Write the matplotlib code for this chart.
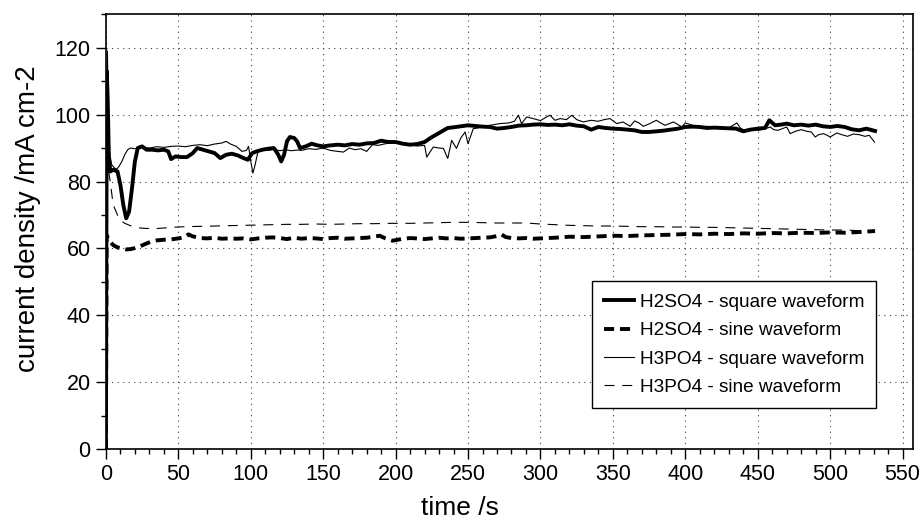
import matplotlib
matplotlib.use('Agg')
import matplotlib.pyplot as plt
from matplotlib.ticker import MultipleLocator

plt.rcParams['font.family'] = ['Liberation Sans', 'DejaVu Sans']

# H2SO4 - square waveform
t_h2so4_sq = [0, 0.6, 1.2, 2, 3, 5, 8, 10, 12, 14, 16, 18, 20, 22, 25, 28, 32, 36, 40, 43, 45, 48, 52, 56,
              60, 63, 67, 71, 75, 79, 83, 87, 91, 95, 98, 101, 104, 108, 112, 116, 119, 121, 123, 125, 127,
              130, 132, 134, 138, 142, 146, 150, 155, 160, 165, 170, 175, 180, 185, 190, 195, 200, 205, 210,
              215, 220, 224, 228, 232, 236, 240, 245, 250, 255, 260, 265, 270, 275, 280, 285, 290, 295, 300,
              305, 310, 315, 320, 325, 330, 335, 340, 345, 350, 355, 360, 365, 370, 375, 380, 385, 390, 395,
              400, 405, 410, 415, 420, 425, 430, 435, 440, 445, 450, 455, 458, 462, 466, 470, 475, 480, 485,
              490, 495, 500, 505, 510, 515, 520, 525, 531]
y_h2so4_sq = [0, 113, 105, 88, 83, 83.5, 83, 79, 73, 69, 71, 78, 86, 90, 90.5, 89.5, 89.5, 89.3, 89.5, 89,
              86.7, 87.5, 87.3, 87.3, 88.5, 90, 89.5, 89, 88.5, 87, 88, 88.3, 87.8, 87, 86.5, 88.5, 89, 89.5,
              89.8, 90, 88, 86, 88, 92, 93.3, 93, 92, 90, 90.5, 91.3, 90.8, 90.5, 90.8, 91, 90.8, 91.2, 91,
              91.4, 91.5, 92.2, 91.8, 91.8, 91.3, 91, 91.2, 91.8, 93, 94, 95, 96, 96.2, 96.5, 96.8, 96.6,
              96.4, 96.3, 95.8, 96, 96.3, 96.7, 96.8, 97, 97.1, 96.9, 97, 96.8, 97.1, 96.7, 96.5, 95.5, 96.3,
              96, 95.8, 95.7, 95.5, 95.3, 94.8, 94.8, 95, 95.2, 95.5, 95.8, 96.3, 96.4, 96.3, 96, 96.1, 96,
              95.9, 95.8, 95, 95.5, 95.8, 96, 98.3, 96.8, 97, 97.3, 96.8, 97, 96.7, 97, 96.5, 96.3, 96.6,
              96.3, 95.6, 95.3, 95.8, 95.1]

# H2SO4 - sine waveform
t_h2so4_sin = [0, 0.5, 1.5, 3, 5, 8, 11, 14, 17, 20, 23, 27, 31, 35, 40, 45, 50, 54, 57, 60, 65, 70, 75, 80,
               85, 90, 95, 100, 105, 110, 115, 120, 125, 130, 135, 140, 145, 150, 155, 160, 165, 170, 175,
               180, 185, 189, 193, 198, 205, 210, 215, 220, 225, 230, 235, 240, 245, 250, 255, 260, 265, 270,
               273, 276, 280, 285, 290, 295, 300, 310, 320, 330, 340, 350, 360, 370, 380, 390, 400, 410, 420,
               430, 440, 450, 460, 470, 480, 490, 500, 510, 520, 531]
y_h2so4_sin = [0, 64, 63, 62, 61, 60.3, 60, 59.7, 59.8, 60.1, 60.5, 61.3, 62, 62.4, 62.6, 62.7, 63, 63.3,
               64.2, 63.6, 63.1, 63, 63.2, 62.9, 63, 62.9, 63, 62.7, 63, 63.2, 63.3, 63.1, 62.8, 63.2, 62.9,
               63.1, 63, 62.8, 63.1, 63.2, 62.9, 63, 63.1, 63.2, 63.5, 63.8, 63, 62.3, 62.9, 63.1, 63, 62.8,
               63, 63.2, 63, 63.1, 62.9, 63, 63.1, 63.2, 63.3, 63.7, 64.2, 63.4, 63.1, 63, 63.1, 62.9, 63,
               63.2, 63.5, 63.4, 63.6, 63.8, 63.7, 63.9, 64, 64.1, 64.3, 64.2, 64.4, 64.3, 64.5, 64.4, 64.6,
               64.5, 64.7, 64.6, 64.8, 64.7, 64.9, 65.2]

# H3PO4 - square waveform
t_h3po4_sq = [0, 1, 1.8, 2.5, 4, 6, 7.5, 9, 11, 13, 15, 17, 20, 25, 30, 35, 40, 45, 50, 55, 60, 65, 70, 75,
              80, 83, 86, 90, 94, 97, 98.5, 100, 101.5, 103, 105, 108, 112, 116, 120, 124, 128, 132, 135, 140,
              145, 150, 155, 160, 164, 168, 172, 176, 180, 184, 188, 192, 196, 200, 205, 210, 215, 220, 221.5,
              224, 226, 230, 233, 236, 238.7, 242, 245, 248, 250, 253.6, 257, 260, 265, 272, 278, 282, 284.8,
              287, 290.5, 295, 300, 305, 306.6, 310, 313.5, 318, 321.6, 325, 329.6, 335, 340, 344, 348, 352.7,
              357, 361.9, 365, 368, 371, 375, 380, 383, 386, 391.8, 395, 397.6, 400, 405, 410, 415, 420, 425,
              430, 433, 435.6, 438, 440, 445, 450, 455, 458.6, 461, 464, 467, 470, 472.4, 476, 480, 484, 487,
              489.7, 492, 495.4, 498, 500, 504.6, 508, 512, 516, 520, 524, 527, 530.6]
y_h3po4_sq = [0, 119, 100, 88, 85, 84, 83.7, 84.5, 86, 88, 89.5, 90, 89.8, 90.2, 90, 90.4, 90.2, 90.5, 90.6,
              90.4, 90.8, 91, 90.7, 91.2, 91.5, 92, 91.2, 90.5, 89, 89.3, 90.5, 86, 82.5, 85, 89, 89.5, 89.3,
              89.6, 89.2, 89.5, 89.2, 89.4, 89.3, 89.8, 89.6, 90, 89.3, 89, 88.8, 90, 89.5, 89.8, 89, 91,
              90.8, 91.2, 91.5, 92, 91.5, 91, 90.6, 90.8, 87.3, 89, 90.3, 90, 89.9, 86.9, 92.3, 89.9, 93,
              94.8, 91.3, 95.8, 96, 96.5, 96.8, 97.3, 97.5, 98, 99.8, 97.3, 99.3, 98.8, 98.2, 99.5, 99.8,
              98.3, 98.8, 98.5, 99.8, 98.5, 97.8, 98.3, 98, 98.5, 98.8, 97.3, 97.8, 96.5, 98.1, 97.5, 96.5,
              97.2, 98.3, 97.5, 96.8, 97.8, 97, 96.3, 97.5, 96.8, 96.3, 96.5, 96.2, 96, 96.1, 96.8, 97.5, 96,
              95.5, 95.6, 95.3, 95.7, 96.3, 95.5, 95.3, 95.8, 96.3, 94.3, 95, 95.5, 95, 94.8, 93.3, 94, 94.3,
              93.8, 93.3, 94.5, 94, 93.5, 94.2, 94, 93.5, 93.8, 91.8]

# H3PO4 - sine waveform
t_h3po4_sin = [0, 0.5, 1.5, 3, 5, 8, 10, 13, 17, 21, 27, 33, 37, 45, 55, 65, 75, 85, 95, 105, 115, 125,
               135, 145, 155, 165, 175, 185, 197, 210, 220, 230, 240, 250, 260, 270, 280, 290, 300, 310, 320,
               330, 340, 350, 360, 370, 380, 390, 400, 410, 420, 430, 440, 450, 460, 470, 480, 490, 500, 510,
               520, 531]
y_h3po4_sin = [0, 80, 84, 80, 73, 70, 68.5, 67.5, 66.8, 66.2, 66, 65.9, 66, 66.3, 66.5, 66.6, 66.7, 66.8,
               66.9, 67, 67.1, 67.2, 67.2, 67.3, 67.2, 67.3, 67.4, 67.4, 67.5, 67.5, 67.6, 67.7, 67.8, 67.8,
               67.7, 67.6, 67.6, 67.6, 67.3, 67.1, 66.9, 66.8, 66.7, 66.7, 66.6, 66.5, 66.5, 66.4, 66.4,
               66.3, 66.3, 66.2, 66.1, 66, 65.9, 65.8, 65.7, 65.6, 65.5, 65.5, 65.3, 65.3]

fig = plt.figure(figsize=(9.21, 5.26), dpi=100)
ax = fig.add_axes([0.115, 0.146, 0.876, 0.827])

ax.plot(t_h2so4_sq, y_h2so4_sq, color='black', lw=2.8, label='H2SO4 - square waveform')
ax.plot(t_h2so4_sin, y_h2so4_sin, color='black', lw=2.8, dashes=(2.6, 1.5), label='H2SO4 - sine waveform')
ax.plot(t_h3po4_sq, y_h3po4_sq, color='black', lw=0.8, label='H3PO4 - square waveform')
ax.plot(t_h3po4_sin, y_h3po4_sin, color='black', lw=0.8, dashes=(9, 7), label='H3PO4 - sine waveform')

ax.set_xlim(0, 557)
ax.set_ylim(0, 130)
ax.xaxis.set_major_locator(MultipleLocator(50))
ax.xaxis.set_minor_locator(MultipleLocator(10))
ax.yaxis.set_major_locator(MultipleLocator(20))
ax.yaxis.set_minor_locator(MultipleLocator(10))
ax.tick_params(which='major', length=7, width=1, direction='out', labelsize=15.5, pad=4)
ax.tick_params(which='minor', length=3.5, width=1, direction='out')
ax.grid(True, which='major', color='0.25', lw=0.8, linestyle=(0, (1, 4)))
for s in ax.spines.values():
    s.set_linewidth(1.2)

ax.set_xlabel('time /s', fontsize=19)
ax.xaxis.set_label_coords(0.4387, -0.108)
ax.set_ylabel('current density /mA cm-2', fontsize=20)
ax.yaxis.set_label_coords(-0.08, 0.531)

leg = ax.legend(loc='upper right', bbox_to_anchor=(0.955, 0.386), fontsize=13.7, frameon=True,
                fancybox=False, edgecolor='black', framealpha=1, handlelength=1.55, handletextpad=0.3,
                borderpad=0.65, labelspacing=0.58, borderaxespad=0)
leg.get_frame().set_linewidth(1.0)

fig.savefig('out.png', dpi=100)
